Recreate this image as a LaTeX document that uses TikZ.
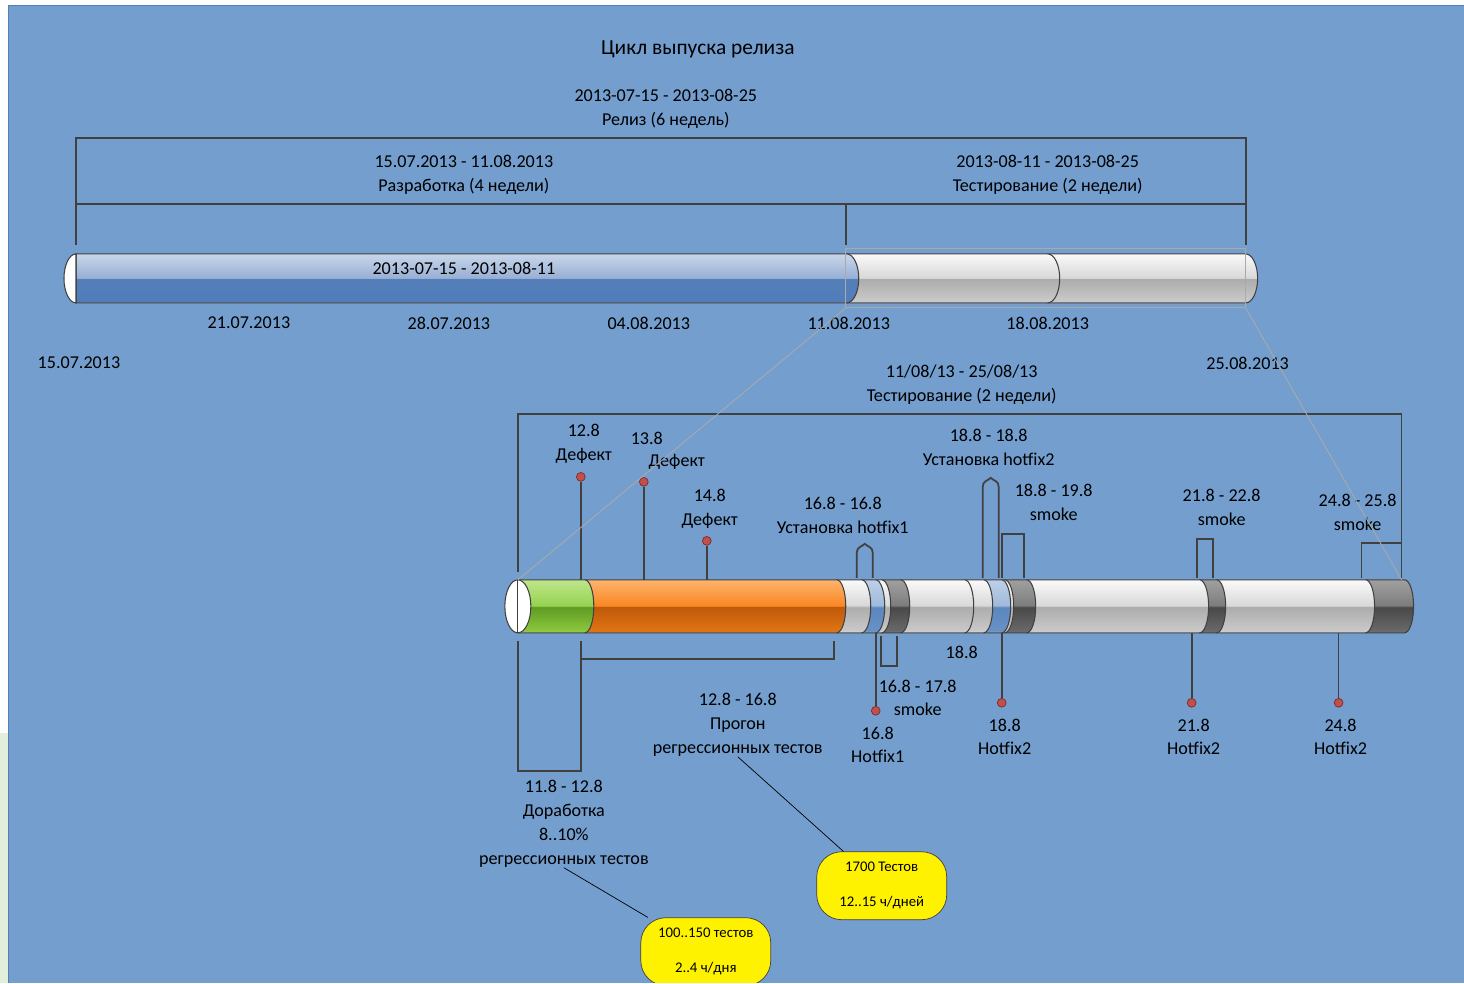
\documentclass[tikz,border=0pt]{standalone}
\usepackage{fontspec}
\setmainfont{Carlito}
\usetikzlibrary{positioning}

\definecolor{bgblue}{RGB}{115,158,206}
\definecolor{borderblue}{RGB}{79,129,189}
\definecolor{leftgreen}{RGB}{226,239,218}
\definecolor{frameline}{RGB}{64,64,64}
\definecolor{zoomgrey}{RGB}{170,170,170}
\definecolor{pinred}{RGB}{192,80,77}
\definecolor{pinline}{RGB}{130,40,35}
% glossy colours: top, upper middle, lower middle, bottom, bottom line
\definecolor{btop}{RGB}{200,214,234}
\definecolor{bmidhi}{RGB}{152,176,212}
\definecolor{bmidlo}{RGB}{84,127,184}
\definecolor{bbot}{RGB}{80,125,186}
\definecolor{bline}{RGB}{205,220,240}
\definecolor{gtop}{RGB}{250,250,250}
\definecolor{gmidhi}{RGB}{216,216,216}
\definecolor{gmidlo}{RGB}{172,172,172}
\definecolor{gbot}{RGB}{202,202,202}
\definecolor{gline}{RGB}{255,255,255}
\definecolor{dtop}{RGB}{160,160,160}
\definecolor{dmidhi}{RGB}{125,125,125}
\definecolor{dmidlo}{RGB}{72,72,72}
\definecolor{dbot}{RGB}{105,105,105}
\definecolor{dline}{RGB}{150,150,150}
\definecolor{grtop}{RGB}{190,230,140}
\definecolor{grmidhi}{RGB}{150,210,80}
\definecolor{grmidlo}{RGB}{95,155,35}
\definecolor{grbot}{RGB}{140,200,60}
\definecolor{grline}{RGB}{205,240,165}
\definecolor{otop}{RGB}{253,180,110}
\definecolor{omidhi}{RGB}{250,135,35}
\definecolor{omidlo}{RGB}{190,90,10}
\definecolor{obot}{RGB}{225,115,20}
\definecolor{oline}{RGB}{250,200,150}
\definecolor{ltop}{RGB}{190,208,232}
\definecolor{lmidhi}{RGB}{160,185,218}
\definecolor{lmidlo}{RGB}{90,135,190}
\definecolor{lbot}{RGB}{105,145,198}

\pgfdeclareverticalshading{glossblue}{100bp}{color(0bp)=(bbot); color(25bp)=(bline); color(26.5bp)=(bbot); color(49.5bp)=(bmidlo); color(50.5bp)=(bmidhi); color(75bp)=(btop); color(100bp)=(btop)}
\pgfdeclareverticalshading{glossgrey}{100bp}{color(0bp)=(gbot); color(25bp)=(gline); color(26.5bp)=(gbot); color(49.5bp)=(gmidlo); color(50.5bp)=(gmidhi); color(75bp)=(gtop); color(100bp)=(gtop)}
\pgfdeclareverticalshading{glossdark}{100bp}{color(0bp)=(dbot); color(25bp)=(dline); color(26.5bp)=(dbot); color(49.5bp)=(dmidlo); color(50.5bp)=(dmidhi); color(75bp)=(dtop); color(100bp)=(dtop)}
\pgfdeclareverticalshading{glossgreen}{100bp}{color(0bp)=(grbot); color(25bp)=(grline); color(26.5bp)=(grbot); color(49.5bp)=(grmidlo); color(50.5bp)=(grmidhi); color(75bp)=(grtop); color(100bp)=(grtop)}
\pgfdeclareverticalshading{glossorange}{100bp}{color(0bp)=(obot); color(25bp)=(oline); color(26.5bp)=(obot); color(49.5bp)=(omidlo); color(50.5bp)=(omidhi); color(75bp)=(otop); color(100bp)=(otop)}
\pgfdeclareverticalshading{glosslblue}{100bp}{color(0bp)=(lbot); color(25bp)=(bline); color(26.5bp)=(lbot); color(49.5bp)=(lmidlo); color(50.5bp)=(lmidhi); color(75bp)=(ltop); color(100bp)=(ltop)}

% one piece of a bar: x1, x2, top, bottom, arc radius, shading
\newcommand\barseg[6]{\path[segline,shading=#6] (#1,#3) -- (#2,#3)
  arc[start angle=-90,end angle=90,x radius=#5,y radius={(#4-#3)/2}] -- (#1,#4) -- cycle;}

\begin{document}
\begin{tikzpicture}[x=0.02cm,y=-0.02cm,
    lbl/.style={align=center,font=\fontsize{10.3}{13.6}\selectfont,inner sep=0pt,yshift=-1.2pt},
    brk/.style={draw=frameline,line width=1pt},
    segline/.style={draw=frameline,line width=0.6pt},
    pin/.style={circle,draw=pinline,fill=pinred,minimum size=5pt,inner sep=0pt},
    callout/.style={draw=frameline,fill=yellow,rounded corners=0.5cm,minimum width=2.6cm,
      minimum height=1.36cm,align=center,font=\fontsize{8.4}{19.8}\selectfont},
    zoomline/.style={draw=zoomgrey,line width=0.5pt}]
	% Hintergrund
	\fill[white] (0,0) rectangle (1464,983);
	\fill[leftgreen] (0,733) rectangle (8,983);
	\fill[bgblue] (8,5) rectangle (1464,983);
	\draw[borderblue,line width=0.5pt] (8,983) -- (8,5) -- (1464,5);
	\useasboundingbox (0,0) rectangle (1464,983);
	\clip (0,0) rectangle (1464,983);

	% Titel und obere Klammern
	\node[lbl,font=\fontsize{12.2}{14}\selectfont] (title) at (698,47) {Цикл выпуска релиза};
	\node[lbl] (release) at (666,107) {2013-07-15 - 2013-08-25\\Релиз (6 недель)};
	\node[lbl] (dev) at (464,173) {15.07.2013 - 11.08.2013\\Разработка (4 недели)};
	\node[lbl] (test) at (1048,173) {2013-08-11 - 2013-08-25\\Тестирование  (2 недели)};
	\draw[brk] (76,245) -- (76,138) -- (1246,138) -- (1246,245);
	\draw[brk] (76,204) -- (1246,204);
	\draw[brk] (846,204) -- (846,245);

	% Oberer Balken
	\barseg{1048}{1246}{254}{303}{12}{glossgrey}
	\barseg{846}{1048}{254}{303}{12}{glossgrey}
	\barseg{76}{847}{254}{303}{12}{glossblue}
	\draw[segline,fill=white] (76,254) arc[start angle=-90,end angle=-270,x radius=12,y radius=24.5] -- cycle;
	\node[lbl] (devbar) at (464,266) {2013-07-15 - 2013-08-11};
	\draw[zoomline] (846,249) rectangle (1246,308);
	\coordinate (selsw) at (846,308);
	\coordinate (selse) at (1246,308);

	% Daten
	\node[lbl] (d1507) at (79,361) {15.07.2013};
	\node[lbl] (d2107) at (249,321) {21.07.2013};
	\node[lbl] (d2807) at (449,321) {28.07.2013};
	\node[lbl] (d0408) at (649,321) {04.08.2013};
	\node[lbl] (d1108) at (849,321) {11.08.2013};
	\node[lbl] (d1808) at (1048,321) {18.08.2013};
	\node[lbl] (d2508) at (1248,361) {25.08.2013};

	% Testphase
	\node[lbl] (testlow) at (962,383) {11/08/13 - 25/08/13\\Тестирование (2 недели)};
	\draw[brk] (518,572) -- (518,414) -- (1402,414) -- (1402,578);
	\draw[brk] (1362,578) -- (1362,543) -- (1402,543);

	% Unterer Balken
	\barseg{1366}{1405}{580}{633}{9}{glossdark}
	\barseg{1217}{1366}{580}{633}{9}{glossgrey}
	\barseg{1200}{1217}{580}{633}{9}{glossdark}
	\barseg{1027}{1200}{580}{633}{9}{glossgrey}
	\barseg{1005}{1027}{580}{633}{9}{glossdark}
	\barseg{1002}{1005}{580}{633}{9}{glossgrey}
	\barseg{984}{1002}{580}{633}{9}{glosslblue}
	\barseg{965}{984}{580}{633}{9}{glossgrey}
	\barseg{901}{965}{580}{633}{9}{glossgrey}
	\barseg{882}{901}{580}{633}{9}{glossdark}
	\barseg{876}{882}{580}{633}{9}{glossgrey}
	\barseg{862}{876}{580}{633}{9}{glosslblue}
	\barseg{837}{862}{580}{633}{9}{glossgrey}
	\barseg{585}{837}{580}{633}{9}{glossorange}
	\barseg{518}{585}{580}{633}{9}{glossgreen}
	\draw[segline,fill=white] (518,606.5) ellipse[x radius=13,y radius=26.5];
	\draw[segline] (518,580) -- (518,633);
	\coordinate (lowstart) at (518,580);
	\coordinate (lowend) at (1402,580);

	% Defekte
	\coordinate (b128) at (581,580);
	\coordinate (b138) at (644,580);
	\coordinate (b148) at (707,580);
	\node[pin] (p128) at (581,477) {};
	\node[pin] (p138) at (644,482) {};
	\node[pin] (p148) at (707,541) {};
	\draw[brk] (b128) -- (p128);
	\draw[brk] (b138) -- (p138);
	\draw[brk] (b148) -- (p148);
	\node[lbl] (l128) at (584,442) {12.8\\Дефект};
	\node[lbl] (l138) at (647,436) {13.8};
	\node[lbl] (l138b) at (677,460) {Дефект};
	\node[lbl] (l148) at (710,507) {14.8\\Дефект};

	% Hotfix und smoke oben
	\node[lbl] (hf1) at (843,513) {16.8 - 16.8\\Установка hotfix1};
	\node[lbl] (hf2) at (989,445) {18.8 - 18.8\\Установка hotfix2};
	\node[lbl] (sm188) at (1054,500) {18.8 - 19.8\\smoke};
	\node[lbl] (sm218) at (1222,505) {21.8 - 22.8\\smoke};
	\node[lbl] (sm248) at (1358,510) {24.8 - 25.8\\smoke};
	\draw[brk] (857,578) -- (857,553) .. controls (857,547) and (862,547) .. (865,544)
		.. controls (868,547) and (873,547) .. (873,553) -- (873,578);
	\draw[brk] (983,578) -- (983,487) .. controls (983,481) and (988,481) .. (991,478)
		.. controls (994,481) and (999,481) .. (999,487) -- (999,578);
	\draw[brk] (1002,578) -- (1002,534) -- (1024,534) -- (1024,578);
	\draw[brk] (1197,578) -- (1197,539) -- (1213,539) -- (1213,578);

	% Unten
	\node[lbl] (d188) at (962,650) {18.8};
	\node[lbl] (sm168) at (918,696) {16.8 - 17.8\\smoke};
	\draw[brk] (881,636) -- (881,666) -- (897,666) -- (897,636);
	\coordinate (b168) at (876,633);
	\coordinate (b188) at (1002,633);
	\coordinate (b218) at (1192,633);
	\coordinate (b248) at (1339,633);
	\node[pin] (p168) at (876,711) {};
	\node[pin] (p188) at (1002,703) {};
	\node[pin] (p218) at (1192,703) {};
	\node[pin] (p248) at (1339,703) {};
	\draw[brk] (b168) -- (p168);
	\draw[brk] (b188) -- (p188);
	\draw[brk] (b218) -- (p218);
	\draw[brk] (b248) -- (p248);
	\node[lbl] (l168) at (878,743) {16.8\\Hotfix1};
	\node[lbl] (l188) at (1005,735) {18.8\\Hotfix2};
	\node[lbl] (l218) at (1194,735) {21.8\\Hotfix2};
	\node[lbl] (l248) at (1341,735) {24.8\\Hotfix2};

	% Regression
	\draw[brk] (834,641) -- (834,659) -- (581,659);
	\draw[brk] (581,641) -- (581,771) -- (518,771) -- (518,641);
	\node[lbl] (regr) at (738,723) {12.8 - 16.8\\Прогон\\регрессионных тестов};
	\node[lbl] (dorab) at (564,822) {11.8 - 12.8\\Доработка\\8..10\%\\регрессионных тестов};
	\node[callout] (c1700) at (882,886) {1700 Тестов\\12..15 ч/дней};
	\node[callout] (c100) at (706,952) {100..150 тестов\\2..4 ч/дня};
	\draw[black,line width=0.4pt] (regr.south) -- (c1700);
	\draw[black,line width=0.4pt] (dorab.south) -- (c100);

	% Zoom-Linien
	\draw[zoomline] (selsw) -- (lowstart);
	\draw[zoomline] (selse) -- (lowend);
\end{tikzpicture}
\end{document}
